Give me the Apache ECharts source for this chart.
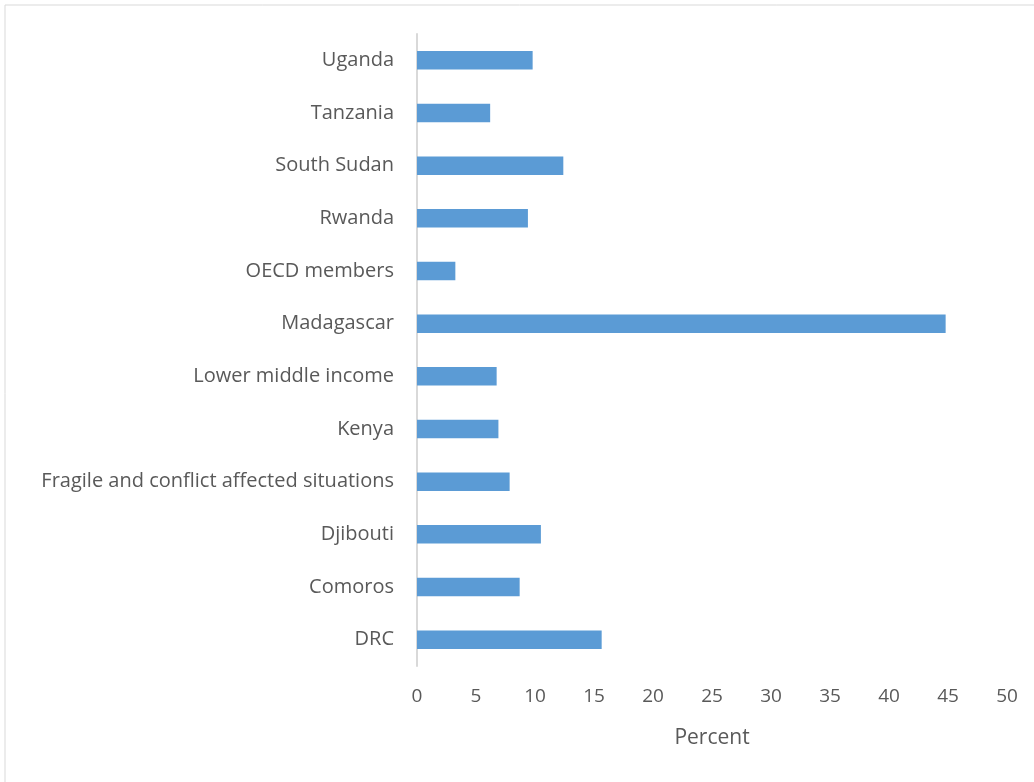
<!DOCTYPE html>
<html>
<head>
<meta charset="utf-8">
<script src="https://cdn.jsdelivr.net/npm/echarts@6/dist/echarts.min.js"></script>
<style>
  html, body { margin: 0; padding: 0; background: #ffffff; }
  #chart { width: 1034px; height: 782px; }
</style>
</head>
<body>
<div id="chart"></div>
<script>
// Categories listed bottom to top, as they stack on the category axis
const categories = [
  'DRC',
  'Comoros',
  'Djibouti',
  'Fragile and conflict affected situations',
  'Kenya',
  'Lower middle income',
  'Madagascar',
  'OECD members',
  'Rwanda',
  'South Sudan',
  'Tanzania',
  'Uganda'
];

// Share, in percent
const percentValues = [15.65, 8.7, 10.5, 7.85, 6.9, 6.75, 44.8, 3.25, 9.4, 12.4, 6.2, 9.8];

const xTicks = { min: 0, max: 50, interval: 5 };
const xAxisName = 'Percent';

const textColor = '#595959';
const fontFamily = '"Open Sans", Lato, sans-serif';

const chart = echarts.init(document.getElementById('chart'), null, { renderer: 'canvas' });

chart.setOption({
  backgroundColor: '#ffffff',
  animation: false,
  graphic: [
    {
      type: 'polyline',
      shape: { points: [[5, 782], [5, 5], [1034, 5]] },
      style: { stroke: '#d9d9d9', lineWidth: 1, fill: null },
      silent: true
    }
  ],
  grid: { left: 417, right: 27, top: 34, bottom: 116, containLabel: false },
  xAxis: {
    type: 'value',
    min: xTicks.min,
    max: xTicks.max,
    interval: xTicks.interval,
    name: xAxisName,
    nameLocation: 'middle',
    nameGap: 62,
    nameTextStyle: { color: textColor, fontSize: 21, fontFamily: fontFamily },
    axisLine: { show: false },
    axisTick: { show: false },
    splitLine: { show: false },
    axisLabel: { color: textColor, fontSize: 19, fontFamily: fontFamily, margin: 21 }
  },
  yAxis: {
    type: 'category',
    data: categories,
    axisLine: { show: true, lineStyle: { color: '#d9d9d9', width: 2 } },
    axisTick: { show: false },
    splitLine: { show: false },
    axisLabel: { color: textColor, fontSize: 20, fontFamily: fontFamily, margin: 23 }
  },
  series: [
    {
      type: 'bar',
      data: percentValues,
      barCategoryGap: '65%',
      itemStyle: { color: '#5b9bd5' },
      silent: true
    }
  ]
});
</script>
</body>
</html>
